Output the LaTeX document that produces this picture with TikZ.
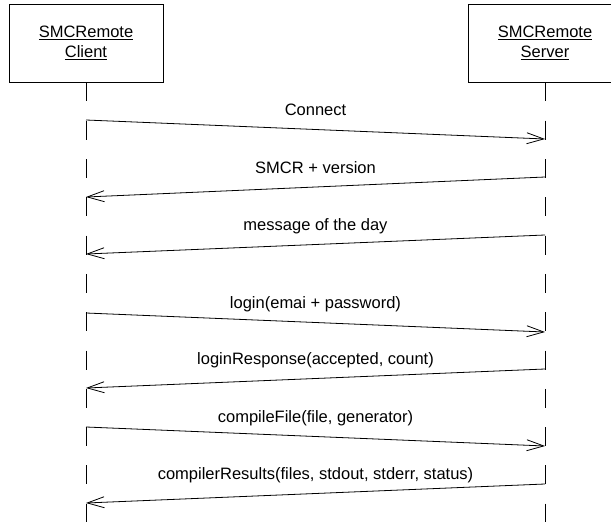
\documentclass[tikz,border=0pt]{standalone}
\usepackage{fontspec}
\setmainfont{Liberation Sans}
\usetikzlibrary{arrows.meta,positioning}
\newcommand{\letra}{\fontsize{16.5}{20}\selectfont}
\tikzset{
  actor/.style={draw, line width=0.8pt, minimum width=154pt, minimum height=78pt, align=center, font=\letra, inner sep=0pt},
  vida/.style={line width=0.8pt, dash pattern=on 19pt off 19.3pt},
  msg/.style={-{Straight Barb[length=17pt, width=11pt, line width=0.8pt]}, line width=0.8pt},
  et/.style={font=\letra, anchor=base, yshift=14pt, inner sep=0pt},
}
\begin{document}
\begin{tikzpicture}[x=1pt, y=-1pt]
  \useasboundingbox (0,0) rectangle (611,522);
  \node[actor] (cli) at (86,43) {\underline{SMCRemote}\\ \underline{Client}};
  \node[actor] (srv) at (545,43) {\underline{SMCRemote}\\ \underline{Server}};
  \coordinate (clifin) at (86,524);
  \coordinate (srvfin) at (545,524);
  \draw[vida] (cli.south) -- (clifin);
  \draw[vida] (srv.south) -- (srvfin);
  % mensajes
  \coordinate (c1) at (86,120);  \coordinate (s1) at (545,139);
  \coordinate (s2) at (545,177); \coordinate (c2) at (86,197);
  \coordinate (s3) at (545,235); \coordinate (c3) at (86,254);
  \coordinate (c4) at (86,313);  \coordinate (s4) at (545,332);
  \coordinate (s5) at (545,369); \coordinate (c5) at (86,388);
  \coordinate (c6) at (86,427);  \coordinate (s6) at (545,446);
  \coordinate (s7) at (545,484); \coordinate (c7) at (86,503);
  \draw[msg] (c1) -- node[et] {Connect} (s1);
  \draw[msg] (s2) -- node[et] {SMCR + version} (c2);
  \draw[msg] (s3) -- node[et] {message of the day} (c3);
  \draw[msg] (c4) -- node[et] {login(emai + password)} (s4);
  \draw[msg] (s5) -- node[et] {loginResponse(accepted, count)} (c5);
  \draw[msg] (c6) -- node[et] {compileFile(file, generator)} (s6);
  \draw[msg] (s7) -- node[et] {compilerResults(files, stdout, stderr, status)} (c7);
\end{tikzpicture}
\end{document}
